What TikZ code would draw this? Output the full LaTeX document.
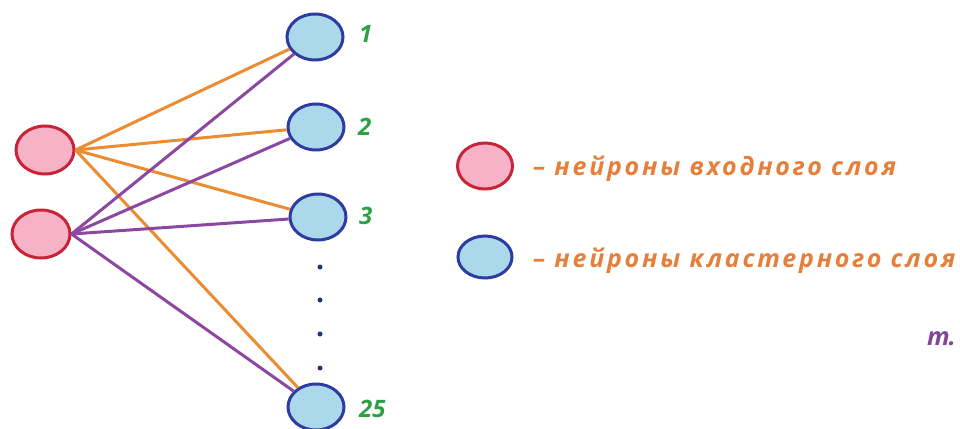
\documentclass[tikz,border=0pt]{standalone}
\usepackage{fontspec}
\setmainfont{Open Sans}
\definecolor{inbord}{RGB}{200,35,55}
\definecolor{infill}{RGB}{246,178,198}
\definecolor{clbord}{RGB}{45,60,160}
\definecolor{clfill}{RGB}{172,216,236}
\definecolor{orangeline}{RGB}{236,140,50}
\definecolor{purpleline}{RGB}{140,72,160}
\definecolor{numgreen}{RGB}{45,160,70}
\definecolor{txtorange}{RGB}{228,128,60}
\definecolor{txtpurple}{RGB}{130,70,150}
\usetikzlibrary{shapes.geometric}
\tikzset{
  inneuron/.style={ellipse, draw=inbord, fill=infill, line width=3pt, minimum width=58pt, minimum height=48pt, inner sep=0pt},
  clneuron/.style={ellipse, draw=clbord, fill=clfill, line width=3pt, minimum width=56pt, minimum height=46pt, inner sep=0pt},
  legin/.style={inneuron, minimum width=55pt, minimum height=46pt},
  legcl/.style={clneuron, minimum width=54pt, minimum height=42pt},
  oline/.style={draw=orangeline, line width=3pt},
  pline/.style={draw=purpleline, line width=3pt},
  numlabel/.style={anchor=base west, text=numgreen, font=\fontsize{24}{26}\selectfont\bfseries\itshape, inner sep=0pt},
  legtext/.style={anchor=base west, text=txtorange, font=\fontsize{25}{28}\selectfont\bfseries\itshape\addfontfeature{LetterSpace=11}, inner sep=0pt},
  dotmark/.style={circle, fill=clbord!80!black, inner sep=0pt, minimum size=5pt}
}
\begin{document}
\begin{tikzpicture}[x=1pt,y=-1pt]
\useasboundingbox (0,0) rectangle (960,428);
\clip (0,0) rectangle (960,428);
% input neurons
\node[inneuron] (r1) at (45,150) {};
\node[inneuron] (r2) at (41,234) {};
% cluster neurons
\node[clneuron] (b1) at (315,37) {};
\node[clneuron] (b2) at (316,127) {};
\node[clneuron] (b3) at (318,217) {};
\node[clneuron] (b25) at (316,407) {};
% connectors
\foreach \t in {b1,b2,b3,b25} {
  \draw[oline] (r1.east) -- (\t);
}
\foreach \t in {b1,b2,b3,b25} {
  \draw[pline] (r2.east) -- (\t);
}
% dots
\node[dotmark] (d1) at (320,267) {};
\node[dotmark] (d2) at (320,300) {};
\node[dotmark] (d3) at (320,334) {};
\node[dotmark] (d4) at (320,368) {};
% numbers
\node[numlabel] (n1) at (359,42) {1};
\node[numlabel] (n2) at (358,135) {2};
\node[numlabel] (n3) at (359,224) {3};
\node[numlabel] (n25) at (359,417) {25};
% legend
\node[legin] (li) at (485,166) {};
\node[legcl] (lc) at (485,257) {};
\node[legtext] (ti) at (533,175) {– нейроны входного слоя};
\node[legtext] (tc) at (533,267) {– нейроны кластерного слоя};
\node[anchor=base west, text=txtpurple, font=\fontsize{25}{28}\selectfont\bfseries\itshape, inner sep=0pt] (tm) at (927,345) {т.};
\end{tikzpicture}
\end{document}
